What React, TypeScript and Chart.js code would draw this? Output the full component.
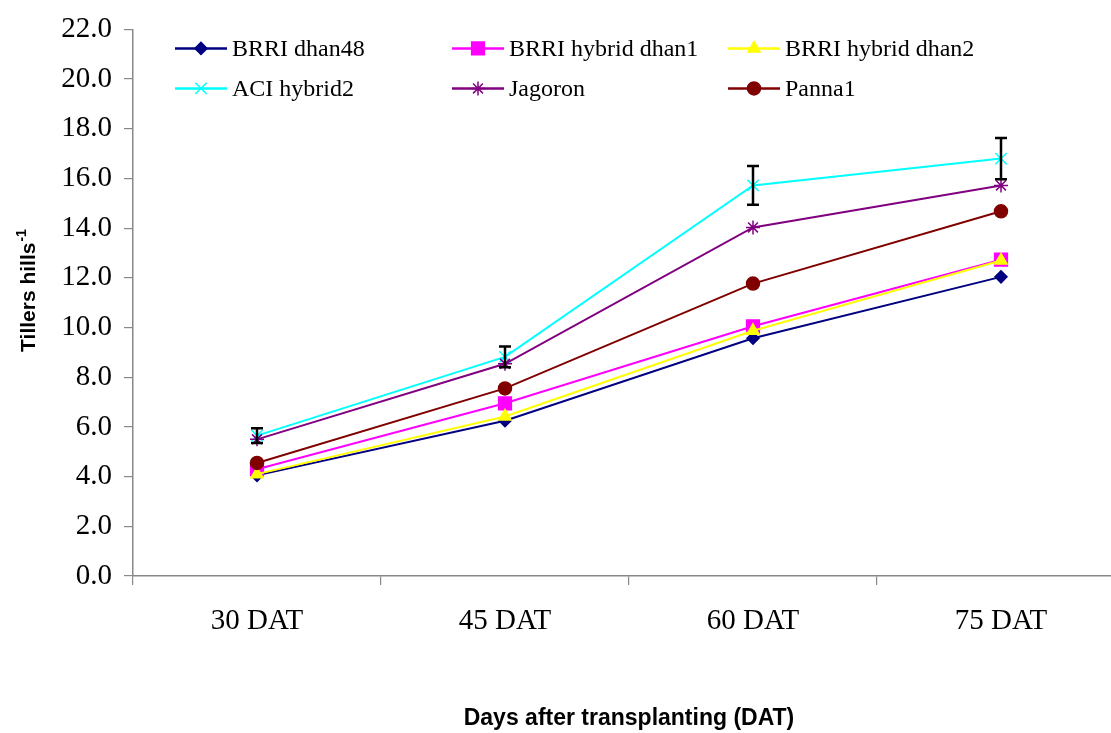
import React, { useEffect, useRef } from 'react';
import { Chart, registerables } from 'chart.js';
import { drawPoint } from 'chart.js/helpers';

Chart.register(...registerables);

const categories = ['30 DAT', '45 DAT', '60 DAT', '75 DAT'];
const seriesNames = ['BRRI dhan48', 'BRRI hybrid dhan1', 'BRRI hybrid dhan2', 'ACI hybrid2', 'Jagoron', 'Panna1'];
const brriDhan48 = [4.05, 6.25, 9.57, 12.04];
const brriHybridDhan1 = [4.3, 6.95, 10.05, 12.73];
const brriHybridDhan2 = [4.1, 6.42, 9.87, 12.7];
const aciHybrid2 = [5.65, 8.82, 15.72, 16.8];
const jagoron = [5.5, 8.54, 14.03, 15.72];
const panna1 = [4.55, 7.55, 11.77, 14.68];
const aciHybrid2Error = [0.3, 0.42, 0.78, 0.83];
const yMin = 0;
const yMax = 22;
const yStep = 2;

const seriesValues = [brriDhan48, brriHybridDhan1, brriHybridDhan2, aciHybrid2, jagoron, panna1];
const seriesStyles = [
  { color: '#000080', pointStyle: 'rectRot', radius: 6 },
  { color: '#FF00FF', pointStyle: 'rect', radius: 9 },
  { color: '#FFFF00', pointStyle: 'triangle', radius: 7 },
  { color: '#00FFFF', pointStyle: 'crossRot', radius: 8 },
  { color: '#800080', pointStyle: 'star', radius: 7 },
  { color: '#800000', pointStyle: 'circle', radius: 6.5 },
];
const errorSeriesIndex = 3;

const legendPlugin = {
  id: 'gridLegend',
  afterDraw(chart: any) {
    const { ctx, chartArea } = chart;
    const colStarts = [chartArea.left + 42, chartArea.left + 319, chartArea.left + 595];
    const rows = [chartArea.top + 19, chartArea.top + 59];
    const lineLen = 52;
    ctx.save();
    chart.data.datasets.forEach((ds: any, i: number) => {
      const x0 = colStarts[i % 3];
      const y = rows[Math.floor(i / 3)];
      ctx.strokeStyle = ds.borderColor;
      ctx.lineWidth = 2.5;
      ctx.beginPath();
      ctx.moveTo(x0, y);
      ctx.lineTo(x0 + lineLen, y);
      ctx.stroke();
      ctx.fillStyle = ds.pointBackgroundColor;
      ctx.strokeStyle = ds.pointBorderColor;
      ctx.lineWidth = ds.pointBorderWidth;
      drawPoint(ctx, { pointStyle: ds.pointStyle, radius: ds.pointRadius, borderWidth: ds.pointBorderWidth, rotation: 0 }, x0 + lineLen / 2, y);
      ctx.fillStyle = '#000';
      ctx.font = '24px "Liberation Serif", "Times New Roman", serif';
      ctx.textBaseline = 'middle';
      ctx.textAlign = 'left';
      ctx.fillText(ds.label, x0 + lineLen + 5, y + 1);
    });
    ctx.restore();
  },
};

const errorBarPlugin = {
  id: 'errorBars',
  afterDatasetsDraw(chart: any) {
    const { ctx } = chart;
    const meta = chart.getDatasetMeta(errorSeriesIndex);
    const yScale = chart.scales.y;
    const values = seriesValues[errorSeriesIndex];
    ctx.save();
    ctx.strokeStyle = '#000';
    ctx.lineWidth = 2.5;
    meta.data.forEach((pt: any, i: number) => {
      const x = pt.x;
      const yt = yScale.getPixelForValue(values[i] + aciHybrid2Error[i]);
      const yb = yScale.getPixelForValue(values[i] - aciHybrid2Error[i]);
      ctx.beginPath();
      ctx.moveTo(x, yt);
      ctx.lineTo(x, yb);
      ctx.moveTo(x - 6, yt);
      ctx.lineTo(x + 6, yt);
      ctx.moveTo(x - 6, yb);
      ctx.lineTo(x + 6, yb);
      ctx.stroke();
    });
    ctx.restore();
  },
};

const yTitlePlugin = {
  id: 'yTitle',
  afterDraw(chart: any) {
    const { ctx } = chart;
    const main = 'Tillers hills';
    const sup = '-1';
    ctx.save();
    ctx.fillStyle = '#000';
    ctx.translate(27, 291);
    ctx.rotate(-Math.PI / 2);
    ctx.font = 'bold 21px "Liberation Sans", Arial, sans-serif';
    const w1 = ctx.measureText(main).width;
    ctx.font = 'bold 14px "Liberation Sans", Arial, sans-serif';
    const w2 = ctx.measureText(sup).width;
    const start = -(w1 + w2) / 2;
    ctx.textBaseline = 'alphabetic';
    ctx.textAlign = 'left';
    ctx.font = 'bold 21px "Liberation Sans", Arial, sans-serif';
    ctx.fillText(main, start, 8);
    ctx.font = 'bold 14px "Liberation Sans", Arial, sans-serif';
    ctx.fillText(sup, start + w1 + 1, -1);
    ctx.restore();
  },
};

export default function App() {
  const canvasRef = useRef<HTMLCanvasElement>(null);

  useEffect(() => {
    const canvas = canvasRef.current;
    if (!canvas) return;
    const datasets = seriesNames.map((name, i) => {
      const s = seriesStyles[i];
      return {
        label: name,
        data: seriesValues[i],
        borderColor: s.color,
        backgroundColor: s.color,
        pointBackgroundColor: s.color,
        pointBorderColor: s.color,
        pointBorderWidth: 1.5,
        pointStyle: s.pointStyle,
        pointRadius: s.radius,
        borderWidth: 2,
        tension: 0,
        fill: false,
        order: seriesNames.length - i,
      };
    });
    const chart = new Chart(canvas, {
      type: 'line',
      data: { labels: categories, datasets },
      options: {
        responsive: false,
        animation: false,
        devicePixelRatio: 1,
        layout: { padding: { left: 0, top: 24, right: 15, bottom: 0 } },
        plugins: {
          legend: { display: false },
          tooltip: { enabled: false },
        },
        scales: {
          x: {
            type: 'category',
            offset: true,
            afterFit(scale: any) {
              scale.height = 157;
            },
            grid: {
              offset: true,
              drawOnChartArea: false,
              drawTicks: true,
              tickLength: 9,
              color: '#888888',
              lineWidth: 1.2,
            },
            border: { color: '#888888', width: 1.5 },
            ticks: {
              color: '#000',
              padding: 19,
              font: { family: '"Liberation Serif", "Times New Roman", serif', size: 29 },
              maxRotation: 0,
            },
            title: {
              display: true,
              text: 'Days after transplanting (DAT)',
              color: '#000',
              font: { family: '"Liberation Sans", Arial, sans-serif', size: 23, weight: 'bold' },
              padding: { top: 0, bottom: 1 },
            },
          },
          y: {
            min: yMin,
            max: yMax,
            afterFit(scale: any) {
              scale.width = 133;
            },
            grid: {
              drawOnChartArea: false,
              drawTicks: true,
              tickLength: 9,
              color: '#888888',
              lineWidth: 1.2,
            },
            border: { color: '#888888', width: 1.5 },
            ticks: {
              stepSize: yStep,
              color: '#000',
              padding: 12,
              font: { family: '"Liberation Serif", "Times New Roman", serif', size: 29 },
              callback: (v: any) => Number(v).toFixed(1),
            },
          },
        },
      },
      plugins: [errorBarPlugin, legendPlugin, yTitlePlugin],
    });
    return () => chart.destroy();
  }, []);

  return (
    <div style={{ position: 'fixed', left: 0, top: 0, width: 1111, height: 733, overflow: 'hidden', background: '#fff' }}>
      <canvas ref={canvasRef} width={1140} height={733} style={{ display: 'block' }} />
    </div>
  );
}
